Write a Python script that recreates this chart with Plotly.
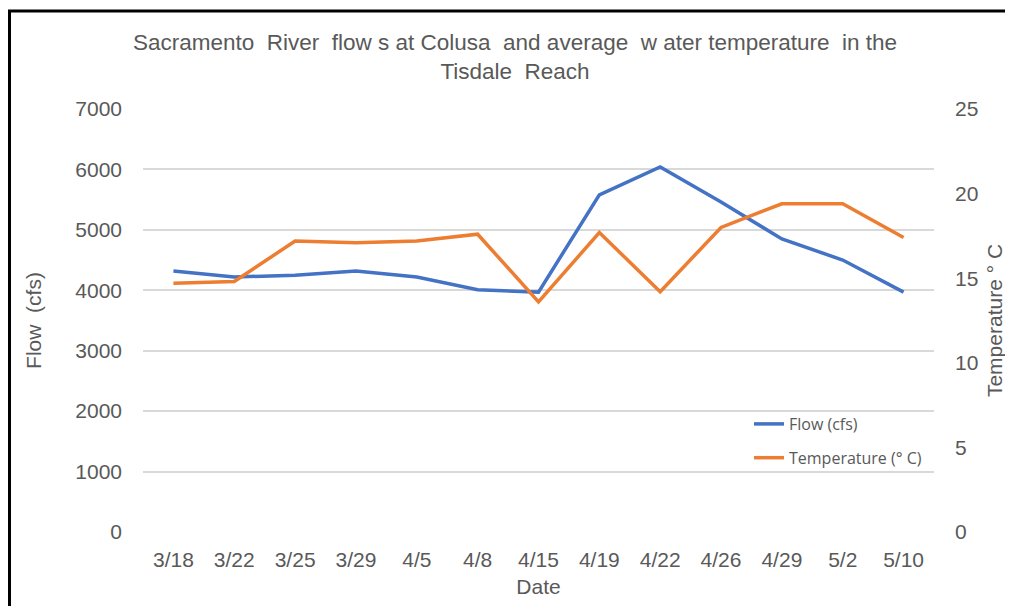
import plotly.graph_objects as go

dates = ["3/18", "3/22", "3/25", "3/29", "4/5", "4/8", "4/15", "4/19", "4/22", "4/26", "4/29", "5/2", "5/10"]
flow_cfs = [4320, 4220, 4250, 4320, 4220, 4010, 3970, 5580, 6040, 5460, 4850, 4500, 3970]
temp_c = [14.7, 14.8, 17.2, 17.1, 17.2, 17.6, 13.6, 17.7, 14.2, 18.0, 19.4, 19.4, 17.4]

# page body has an 8px margin: figure pixel = screen pixel - 8
OFF = 8
W, H = 1013 - OFF, 606 - OFF
L, T = 143 - OFF, 109 - OFF
R = W - (934 - OFF)
B = H - (532 - OFF)
pw, ph = W - L - R, H - T - B

def px(x):
    return (x - L) / pw

def py(y):
    return (H - B - y) / ph

grey = "#595959"
font_main = "Liberation Sans, Arial, sans-serif"

fig = go.Figure()
fig.add_trace(go.Scatter(x=dates, y=flow_cfs, name="Flow (cfs)", mode="lines", legendgroup="a",
                         line=dict(color="#4472C4", width=3.5)))
fig.add_trace(go.Scatter(x=dates, y=temp_c, name="Temperature (° C)", mode="lines", legendgroup="b",
                         line=dict(color="#ED7D31", width=3.5), yaxis="y2"))

fig.update_layout(
    width=W, height=H,
    margin=dict(l=L, r=R, t=T, b=B, autoexpand=False),
    paper_bgcolor="white", plot_bgcolor="white",
    font=dict(family=font_main, color=grey, size=21),
    title=dict(text="Sacramento  River  flow s at Colusa  and average  w ater temperature  in the<br>Tisdale  Reach",
               x=(515 - OFF) / W, xanchor="center", y=1 - (50 - OFF) / H, yanchor="middle", yref="container",
               font=dict(size=22.5, color=grey, family=font_main)),
    xaxis=dict(type="category", range=[-0.5, 12.5], showgrid=False, showline=False, zeroline=False,
               ticks="", tickfont=dict(size=21, color=grey), ticklabelstandoff=13,
               title=dict(text="Date", font=dict(size=21, color=grey), standoff=9)),
    yaxis=dict(range=[0, 7000], dtick=1000, showgrid=True, gridcolor="#d9d9d9", gridwidth=1.5,
               zeroline=False, showline=False, ticks="", tickfont=dict(size=21, color=grey),
               ticklabelstandoff=20,
               title=dict(text="Flow  (cfs)", font=dict(size=21, color=grey), standoff=27)),
    yaxis2=dict(range=[0, 25], dtick=5, overlaying="y", side="right", showgrid=False,
                zeroline=False, showline=False, ticks="", tickfont=dict(size=21, color=grey),
                ticklabelstandoff=20,
                title=dict(text="Temperature ° C", font=dict(size=21, color=grey), standoff=9)),
    legend=dict(x=px(749 - OFF), y=py(407 - OFF), xanchor="left", yanchor="top",
                bgcolor="rgba(0,0,0,0)", font=dict(size=16, color=grey, family="Open Sans, sans-serif"),
                tracegroupgap=10),
    showlegend=True,
    shapes=[
        dict(type="path", xref="paper", yref="paper",
             path=f"M {px(1.5)} {py(H)} L {px(1.5)} {py(3)} L {px(W)} {py(3)}",
             line=dict(color="black", width=3)),
    ],
)

fig.write_html("out.html")
